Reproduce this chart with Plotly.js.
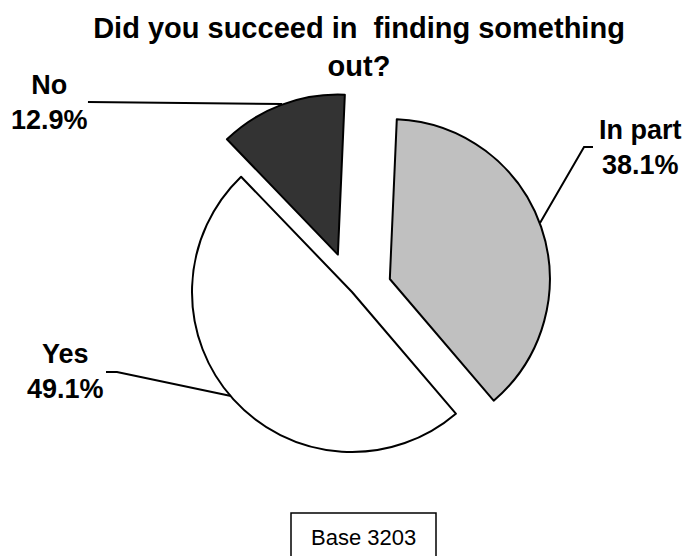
<!DOCTYPE html>
<html>
<head>
<meta charset="utf-8">
<script src="https://cdn.plot.ly/plotly-3.0.1.min.js"></script>
<style>html,body{margin:0;padding:0;background:#fff;}#chart{width:683px;height:556px;}</style>
</head>
<body>
<div id="chart"></div>
<script>
var categories = ['In part', 'Yes', 'No'];
var values = [38.1, 49.1, 12.9];
var valueLabels = ['38.1%', '49.1%', '12.9%'];
var sliceColors = ['#C0C0C0', '#FFFFFF', '#333333'];
var pulls = [0.25, 0, 0.25];
var chartTitle = 'Did you succeed in\u00a0 finding something<br>out?';
var baseNote = 'Base 3203';

var W = 683, H = 556;
function px(x) { return x / W; }
function py(y) { return 1 - y / H; }

var trace = {
  type: 'pie',
  labels: categories,
  values: values,
  sort: false,
  direction: 'clockwise',
  rotation: 2.5,
  pull: pulls,
  textinfo: 'none',
  hoverinfo: 'label+percent',
  marker: { colors: sliceColors, line: { color: '#000000', width: 2 } },
  domain: { x: [px(152), px(552)], y: [py(492), py(92)] },
  showlegend: false
};

var labelPos = [
  { x: 640, y: 147 },
  { x: 65, y: 372 },
  { x: 49, y: 103 }
];

var annotations = categories.map(function (c, i) {
  return {
    xref: 'paper', yref: 'paper',
    x: px(labelPos[i].x), y: py(labelPos[i].y),
    xanchor: 'center', yanchor: 'middle',
    text: '<b>' + c + '<br>' + valueLabels[i] + '</b>',
    showarrow: false,
    font: { family: 'Liberation Sans, Arial, sans-serif', size: 27, color: '#000' }
  };
});
annotations.push({
  xref: 'paper', yref: 'paper',
  x: px(363), y: py(537),
  xanchor: 'center', yanchor: 'middle',
  text: baseNote, showarrow: false,
  font: { family: 'Liberation Sans, Arial, sans-serif', size: 22, color: '#000' }
});

function pathPx(points) {
  return points.map(function (p, i) {
    return (i ? 'L' : 'M') + px(p[0]).toFixed(4) + ',' + py(p[1]).toFixed(4);
  }).join(' ');
}

var shapes = [
  { type: 'path', xref: 'paper', yref: 'paper', path: pathPx([[88, 102], [282, 104]]), line: { color: '#000', width: 2 } },
  { type: 'path', xref: 'paper', yref: 'paper', path: pathPx([[593, 147], [584, 147], [540, 223]]), line: { color: '#000', width: 2 } },
  { type: 'path', xref: 'paper', yref: 'paper', path: pathPx([[106, 372], [117, 372], [231, 396]]), line: { color: '#000', width: 2 } },
  { type: 'rect', xref: 'paper', yref: 'paper', x0: px(291), x1: px(436), y0: py(513), y1: py(600), line: { color: '#000', width: 1.5 }, fillcolor: 'rgba(0,0,0,0)' }
];

var layout = {
  width: W, height: H,
  margin: { l: 0, r: 0, t: 0, b: 0 },
  paper_bgcolor: '#FFFFFF',
  title: {
    text: '<b>' + chartTitle + '</b>',
    x: px(359), xanchor: 'center', xref: 'paper',
    y: 1 - 38 / H, yanchor: 'top', yref: 'container',
    font: { family: 'Liberation Sans, Arial, sans-serif', size: 29, color: '#000' }
  },
  annotations: annotations,
  shapes: shapes,
  showlegend: false
};

Plotly.newPlot('chart', [trace], layout, { displayModeBar: false, staticPlot: true });
</script>
</body>
</html>
